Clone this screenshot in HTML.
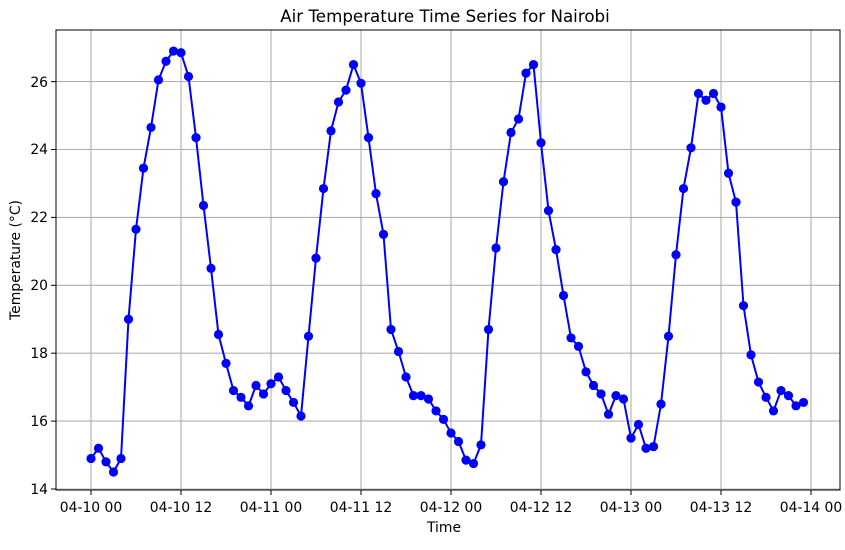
<!DOCTYPE html>
<html><head><meta charset="utf-8"><style>
html,body{margin:0;padding:0;background:#fff;}
text{font-family:"DejaVu Sans","Liberation Sans",sans-serif;fill:#000;}
</style></head><body>
<svg id="s" width="845" height="545" viewBox="0 0 845 545" xmlns="http://www.w3.org/2000/svg">
<rect x="0" y="0" width="845" height="545" fill="#fff"/>
<g id="grid" stroke="#b0b0b0" stroke-width="1.1"></g>
<rect x="56" y="30" width="784" height="460" fill="none" stroke="#000" stroke-width="1"/>
<g id="ticks" stroke="#000" stroke-width="1"></g>
<polyline id="line" fill="none" stroke="#0000ff" stroke-width="2"/>
<g id="pts" fill="#0000ff"></g>
<text x="445" y="22" font-size="16.7" text-anchor="middle">Air Temperature Time Series for Nairobi</text>
<text x="444" y="532" font-size="13.9" text-anchor="middle">Time</text>
<text transform="translate(20,260) rotate(-90)" font-size="13.9" text-anchor="middle">Temperature (°C)</text>
<g font-size="13.9" text-anchor="end">
<text x="48" y="494">14</text><text x="48" y="426">16</text><text x="48" y="358">18</text><text x="48" y="290">20</text><text x="48" y="222">22</text><text x="48" y="154">24</text><text x="48" y="87">26</text>
</g>
<g font-size="13.9" text-anchor="middle">
<text x="91" y="512">04-10 00</text><text x="181" y="512">04-10 12</text><text x="271" y="512">04-11 00</text><text x="361" y="512">04-11 12</text><text x="451" y="512">04-12 00</text><text x="541" y="512">04-12 12</text><text x="631" y="512">04-13 00</text><text x="721" y="512">04-13 12</text><text x="811" y="512">04-14 00</text>
</g>
</svg>
<script>
var T=[14.9,15.2,14.8,14.5,14.9,19.0,21.65,23.45,24.65,26.05,26.6,26.9,26.85,26.15,24.35,22.35,20.5,18.55,17.7,16.9,16.7,16.45,17.05,16.8,
17.1,17.3,16.9,16.55,16.15,18.5,20.8,22.85,24.55,25.4,25.75,26.5,25.95,24.35,22.7,21.5,18.7,18.05,17.3,16.75,16.75,16.65,16.3,16.05,
15.65,15.4,14.85,14.75,15.3,18.7,21.1,23.05,24.5,24.9,26.25,26.5,24.2,22.2,21.05,19.7,18.45,18.2,17.45,17.05,16.8,16.2,16.75,16.65,
15.5,15.9,15.2,15.25,16.5,18.5,20.9,22.85,24.05,25.65,25.45,25.65,25.25,23.3,22.45,19.4,17.95,17.15,16.7,16.3,16.9,16.75,16.45,16.55];
var ns="http://www.w3.org/2000/svg";
function Y(v){return 489-(v-14)*33.95;}
var g=document.getElementById('grid'),tk=document.getElementById('ticks');
function ln(p,x1,y1,x2,y2){var l=document.createElementNS(ns,'line');l.setAttribute('x1',x1);l.setAttribute('y1',y1);l.setAttribute('x2',x2);l.setAttribute('y2',y2);p.appendChild(l);}
for(var i=0;i<9;i++){var x=91+90*i;ln(g,x,30,x,490);ln(tk,x,490,x,495);}
for(var v=14;v<=26;v+=2){var y=Y(v);ln(g,56,y,840,y);ln(tk,51,y,56,y);}
var pts=[],pg=document.getElementById('pts');
for(var i=0;i<T.length;i++){var x=91+7.5*i,y=Y(T[i]);pts.push(x+','+y);
var c=document.createElementNS(ns,'circle');c.setAttribute('cx',x);c.setAttribute('cy',y);c.setAttribute('r',4.6);pg.appendChild(c);}
document.getElementById('line').setAttribute('points',pts.join(' '));
</script>
</body></html>
